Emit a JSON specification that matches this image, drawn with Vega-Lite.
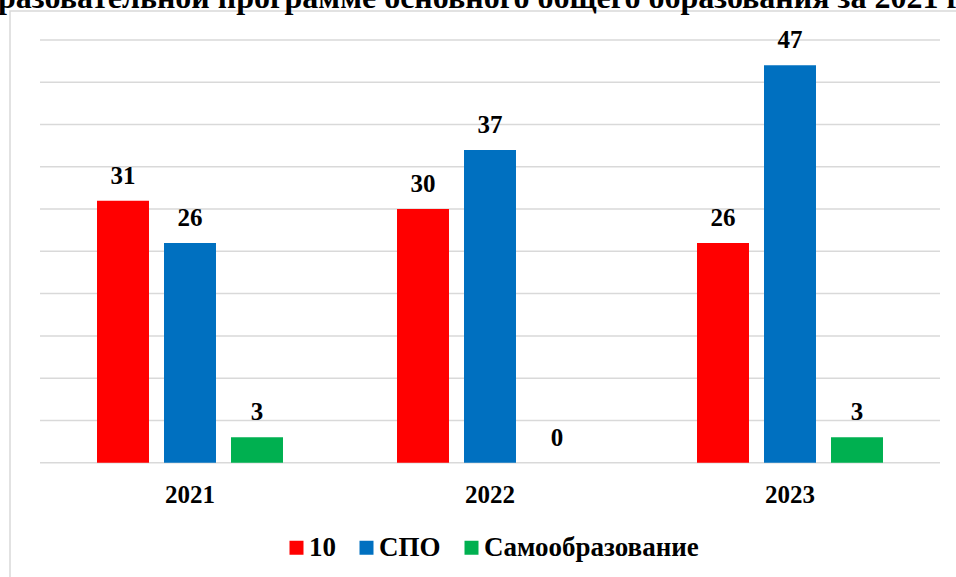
{
  "$schema": "https://vega.github.io/schema/vega-lite/v6.json",
  "width": 960,
  "height": 589,
  "autosize": {"type": "none"},
  "padding": {"left": 10, "top": 11, "right": 0, "bottom": 0},
  "title": {
    "text": "разовательной программе основного общего образования за 2021 г",
    "anchor": "start",
    "dx": -12,
    "offset": -4,
    "font": "Liberation Serif",
    "fontSize": 32,
    "fontWeight": "bold",
    "color": "#000000"
  },
  "config": {
    "view": {"stroke": "#d9d9d9", "strokeWidth": 1.5},
    "font": "Liberation Serif"
  },
  "datasets": {
    "bars": [
      {"year": "2021", "series": "10", "value": 31},
      {"year": "2021", "series": "СПО", "value": 26},
      {"year": "2021", "series": "Самообразование", "value": 3},
      {"year": "2022", "series": "10", "value": 30},
      {"year": "2022", "series": "СПО", "value": 37},
      {"year": "2022", "series": "Самообразование", "value": 0},
      {"year": "2023", "series": "10", "value": 26},
      {"year": "2023", "series": "СПО", "value": 47},
      {"year": "2023", "series": "Самообразование", "value": 3}
    ],
    "grid": [
      {"v": 0}, {"v": 5}, {"v": 10}, {"v": 15}, {"v": 20}, {"v": 25},
      {"v": 30}, {"v": 35}, {"v": 40}, {"v": 45}, {"v": 50}
    ]
  },
  "layer": [
    {
      "data": {"name": "grid"},
      "mark": {"type": "rule", "color": "#d9d9d9", "strokeWidth": 1.5},
      "encoding": {
        "y": {"field": "v", "type": "quantitative", "scale": {"domain": [-16.24, 53.43], "nice": false, "zero": false}, "axis": null},
        "x": {"datum": 0, "type": "quantitative", "scale": {"domain": [-0.03333, 1.03333], "nice": false, "zero": false}, "axis": null},
        "x2": {"datum": 1}
      }
    },
    {
      "data": {"name": "bars"},
      "encoding": {
        "x": {
          "field": "year", "type": "nominal",
          "scale": {"paddingInner": 0.33, "paddingOuter": 0.265},
          "axis": {
            "orient": "bottom", "offset": -137.3, "domain": false, "ticks": false, "grid": false,
            "title": null, "labelAngle": 0,
            "labelFont": "Liberation Serif", "labelFontSize": 25, "labelFontWeight": "bold",
            "labelColor": "#000000", "labelBaseline": "alphabetic", "labelPadding": 40
          }
        },
        "xOffset": {
          "field": "series", "type": "nominal",
          "sort": ["10", "СПО", "Самообразование"],
          "scale": {"paddingInner": 0.224, "paddingOuter": 0.112}
        },
        "y": {"field": "value", "type": "quantitative", "scale": {"domain": [-16.24, 53.43], "nice": false, "zero": false}, "axis": null}
      },
      "layer": [
        {
          "mark": {"type": "bar"},
          "encoding": {
            "y2": {"datum": 0},
            "color": {
              "field": "series", "type": "nominal",
              "scale": {"domain": ["10", "СПО", "Самообразование"], "range": ["#FF0000", "#0070C0", "#00B050"]},
              "legend": {
                "orient": "none", "legendX": 273, "legendY": 523, "direction": "horizontal",
                "title": null, "symbolType": "square", "symbolSize": 196, "symbolStrokeWidth": 0,
                "labelFont": "Liberation Serif", "labelFontSize": 27, "labelFontWeight": "bold",
                "labelColor": "#000000", "labelOffset": -1, "columnPadding": 17, "padding": 0, "labelLimit": 400
              }
            }
          }
        },
        {
          "mark": {"type": "text", "baseline": "alphabetic", "dy": -17, "fontSize": 25, "fontWeight": "bold", "font": "Liberation Serif", "color": "#000000"},
          "encoding": {
            "text": {"field": "value", "type": "quantitative"}
          }
        }
      ]
    }
  ],
  "resolve": {"scale": {"x": "independent"}}
}
